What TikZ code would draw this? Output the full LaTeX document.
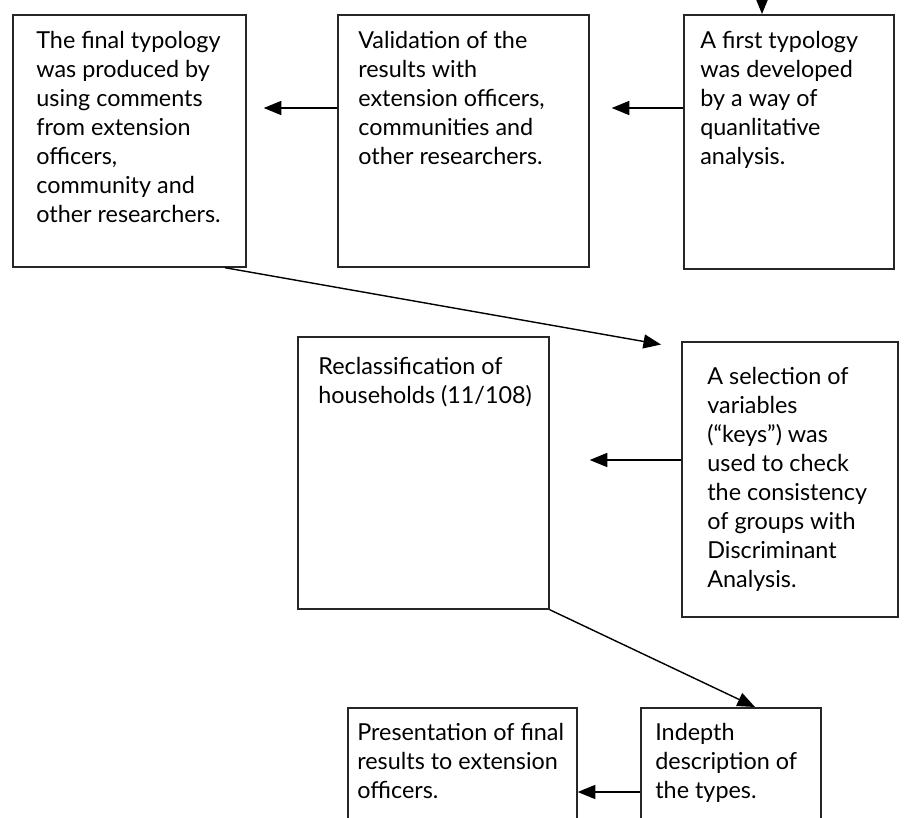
\documentclass[tikz,border=0pt]{standalone}
\usepackage{fontspec}
\setmainfont{Lato}
\usetikzlibrary{arrows.meta, positioning, calc}

\begin{document}
\begin{tikzpicture}[x=0.02cm, y=-0.02cm,
  stage/.style={draw=black!85, line width=1pt, anchor=north west, inner sep=0pt},
  txt/.style={anchor=north west, inner sep=0pt, align=left, font=\fontsize{13.3}{16.5}\selectfont},
  flow/.style={-{Triangle[length=10pt, width=8pt]}, line width=0.8pt}]
  \clip (0,0) rectangle (913,818);

  % Top row
  \node[stage, minimum width=4.66cm, minimum height=5.04cm] (final) at (12,14) {};
  \node[stage, minimum width=5.02cm, minimum height=5.04cm] (valid) at (337,14) {};
  \node[stage, minimum width=4.2cm, minimum height=5.08cm] (first) at (683,14) {};
  \node[txt] (finaltxt) at ($(final.north west)+(24,17)$) {The final typology\\was produced by\\using comments\\from extension\\officers,\\community and\\other researchers.};
  \node[txt] (validtxt) at ($(valid.north west)+(21,17)$) {Validation of the\\results with\\extension officers,\\communities and\\other researchers.};
  \node[txt] (firsttxt) at ($(first.north west)+(17,17)$) {A first typology\\was developed\\by a way of\\quanlitative\\analysis.};

  % Middle row
  \node[stage, minimum width=5.02cm, minimum height=5.44cm] (reclass) at (297,336) {};
  \node[stage, minimum width=4.32cm, minimum height=5.5cm] (select) at (681,341) {};
  \node[txt] (reclasstxt) at ($(reclass.north west)+(21,21)$) {Reclassification of\\households (11/108)};
  \node[txt] (selecttxt) at ($(select.north west)+(26,26)$) {A selection of\\variables\\(``keys'') was\\used to check\\the consistency\\of groups with\\Discriminant\\Analysis.};

  % Bottom row
  \node[stage, minimum width=4.58cm, minimum height=2.66cm] (present) at (347,707) {};
  \node[stage, minimum width=3.6cm, minimum height=2.66cm] (indepth) at (640,707) {};
  \node[txt] (presenttxt) at ($(present.north west)+(10,16)$) {Presentation of final\\results to extension\\officers.};
  \node[txt] (indepthtxt) at ($(indepth.north west)+(15,16)$) {Indepth\\description of\\the types.};

  % Connectors
  \coordinate (start) at (762,-10);
  \draw[flow] (start) -- (first.north -| start);
  \draw[flow, shorten >=0.44cm] (first.west |- 0,108) -- (valid.east |- 0,108);
  \draw[flow, shorten >=0.34cm] (valid.west |- 0,108) -- (final.east |- 0,108);
  \draw[flow] (final.south -| 225,0) -- ([xshift=-0.4cm, yshift=-2pt]select.north west);
  \draw[flow, shorten >=0.8cm] (select.west |- 0,460) -- (reclass.east |- 0,460);
  \draw[flow] (reclass.south east) -- (indepth.north -| 755,0);
  \draw[flow] (indepth.west |- 0,792) -- (present.east |- 0,792);
\end{tikzpicture}
\end{document}
